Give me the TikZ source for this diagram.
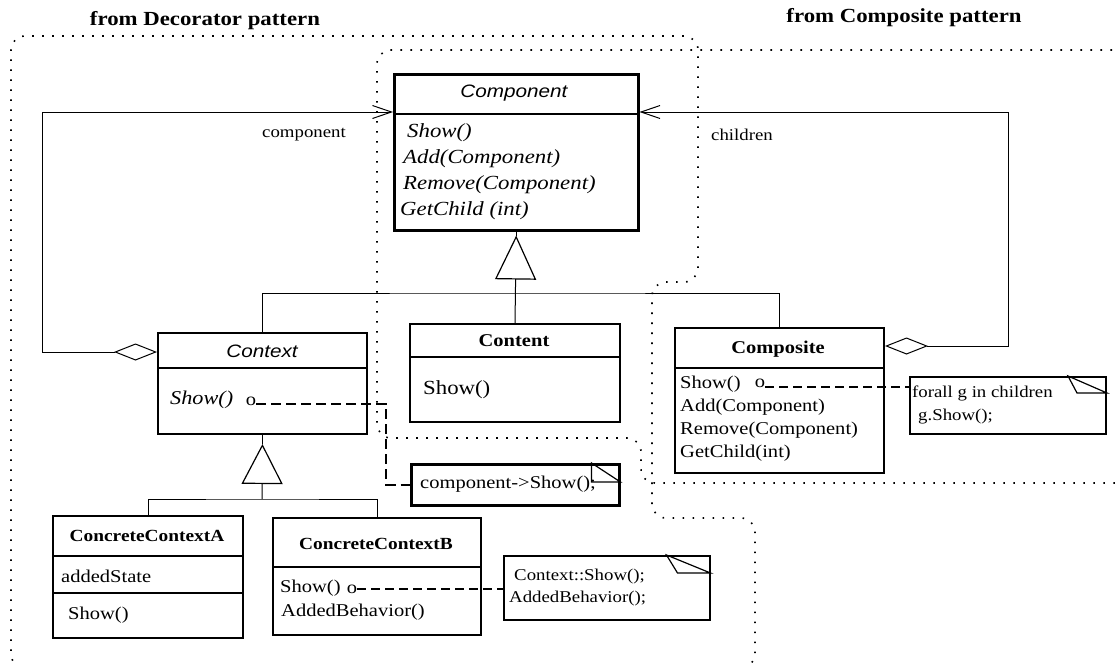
\documentclass[tikz,border=0pt]{standalone}
\usepackage{fontspec}
\setmainfont{Liberation Serif}[FakeStretch=1.14]
\newfontfamily\uisans{Liberation Sans}[FakeStretch=1.15]
\usetikzlibrary{arrows.meta}
\newcommand\fsz[1]{\fontsize{#1}{#1}\selectfont}
\begin{document}
\begin{tikzpicture}[x=1pt,y=-1pt,
  cls/.style={draw, line width=2pt, rectangle, inner sep=0pt, anchor=north west},
  note/.style={draw, line width=1.8pt, rectangle, inner sep=0pt, anchor=north west},
  divider/.style={line width=2pt},
  txt/.style={inner sep=0pt, anchor=west, font=\fsz{18}},
  ctitle/.style={inner sep=0pt, font=\bfseries\fsz{18}},
  atitle/.style={inner sep=0pt, font=\uisans\itshape\fsz{18}},
  ptitle/.style={inner sep=0pt, font=\bfseries\fsz{20}},
  lbl/.style={inner sep=0pt, font=\fsz{16.5}},
  link/.style={line width=1pt},
  region/.style={line width=1.6pt, dash pattern=on 1.6pt off 8.4pt, rounded corners=14pt},
  aggr/.style={link, {Diamond[open,length=43pt,width=17pt,line width=1pt]}-{Straight Barb[length=19pt,width=13pt,line width=1pt]}},
  inh/.style={link, -{Triangle[open,length=44pt,width=41pt,line width=1.2pt]}},
  notelink/.style={line width=1.2pt, dash pattern=on 9pt off 5pt},
  fold/.style={line width=1.2pt},
]
\fill[white] (0,0) rectangle (1115,664);
\useasboundingbox (0,0) rectangle (1115,664);

% pattern regions
\begin{scope}
  \clip (0,0) rectangle (1115,664);
  \draw[region] (400,668) -- (11,668) -- (11,36) -- (698,36) -- (698,282) -- (652,282)
                -- (652,518) -- (755,518) -- (755,668) -- (400,668);
  \draw[region] (1122,50) -- (377,50) -- (377,438) -- (641,438) -- (641,483) -- (1122,483);
\end{scope}

\node[ptitle] (tdec) at (205,21) {from Decorator pattern};
\node[ptitle] (tcom) at (904,18) {from Composite pattern};

% Component
\node[cls, line width=2.5pt, minimum width=244pt, minimum height=156pt] (comp) at (393,73) {};
\draw[divider] ([yshift=-41pt]comp.north west) -- ([yshift=-41pt]comp.north east);
\node[atitle] (compname) at (514,93) {Component};
\node[txt, font=\itshape\fsz{20}] (cm1) at (407,133) {Show()};
\node[txt, font=\itshape\fsz{20}] (cm2) at (403,159) {Add(Component)};
\node[txt, font=\itshape\fsz{20}] (cm3) at (403,185) {Remove(Component)};
\node[txt, font=\itshape\fsz{20}] (cm4) at (400,211) {GetChild (int)};

% Context
\node[cls, minimum width=209pt, minimum height=101pt] (ctx) at (157,332) {};
\draw[divider] ([yshift=-36pt]ctx.north west) -- ([yshift=-36pt]ctx.north east);
\node[atitle] (ctxname) at (262,351) {Context};
\node[txt, font=\itshape\fsz{19.5}] (ctxshow) at (170,400) {Show()};
\node[inner sep=0pt, font=\fsz{18}] (ctxo) at (251,401) {o};

% Content
\node[cls, minimum width=210pt, minimum height=98pt] (content) at (409,323) {};
\draw[divider] ([yshift=-34pt]content.north west) -- ([yshift=-34pt]content.north east);
\node[ctitle] (contentname) at (514,341) {Content};
\node[txt, font=\fsz{20}] (contentshow) at (423,390) {Show()};

% Composite
\node[cls, minimum width=209pt, minimum height=145pt] (compo) at (674,327) {};
\draw[divider] ([yshift=-41pt]compo.north west) -- ([yshift=-41pt]compo.north east);
\node[ctitle] (componame) at (778,349) {Composite};
\node[txt] (com1) at (680,384) {Show()};
\node[inner sep=0pt, font=\fsz{18}] (compoo) at (760,383) {o};
\node[txt] (com2) at (680,407) {Add(Component)};
\node[txt] (com3) at (680,430) {Remove(Component)};
\node[txt] (com4) at (680,453) {GetChild(int)};

% ConcreteContextA
\node[cls, minimum width=190pt, minimum height=122pt] (cca) at (52,515) {};
\draw[divider] ([yshift=-41pt]cca.north west) -- ([yshift=-41pt]cca.north east);
\draw[divider, line width=2.5pt] ([yshift=-78pt]cca.north west) -- ([yshift=-78pt]cca.north east);
\node[ctitle, font=\bfseries\fsz{17}] (ccaname) at (147,536) {ConcreteContextA};
\node[txt] (ccastate) at (61,576) {addedState};
\node[txt] (ccashow) at (68,615) {Show()};

% ConcreteContextB
\node[cls, minimum width=208pt, minimum height=117pt] (ccb) at (272,517) {};
\draw[divider] ([yshift=-50pt]ccb.north west) -- ([yshift=-50pt]ccb.north east);
\node[ctitle, font=\bfseries\fsz{17}] (ccbname) at (376,544) {ConcreteContextB};
\node[txt] (ccbshow) at (280,588) {Show()};
\node[inner sep=0pt, font=\fsz{18}] (ccbo) at (352,589) {o};
\node[txt] (ccbadd) at (281,612) {AddedBehavior()};

% notes
\node[note, line width=2.5pt, minimum width=208pt, minimum height=41pt] (n1) at (410,463) {};
\node[txt] (n1t) at (420,484) {component->Show();};
\draw[fold] ([xshift=-29pt]n1.north east) -- ([xshift=-29pt,yshift=-19pt]n1.north east)
  -- ([yshift=-19pt]n1.north east) -- cycle;

\node[note, line width=1.5pt, minimum width=206pt, minimum height=64pt] (n2) at (503,555) {};
\node[txt, font=\fsz{16.5}] (n2a) at (514,577) {Context::Show();};
\node[txt, font=\fsz{16.5}] (n2b) at (509,599) {AddedBehavior();};
\draw[fold] ([xshift=-44pt]n2.north east) -- ([xshift=-33pt,yshift=-18pt]n2.north east)
  -- ([yshift=-18pt]n2.north east) -- cycle;

\node[note, line width=2pt, minimum width=196pt, minimum height=57pt] (n3) at (909,376) {};
\node[txt, font=\fsz{16.5}] (n3a) at (912,393) {forall g in children};
\node[txt, font=\fsz{16.5}] (n3b) at (918,417) {g.Show();};
\draw[fold] ([xshift=-39pt]n3.north east) -- ([xshift=-30pt,yshift=-17pt]n3.north east)
  -- ([yshift=-17pt]n3.north east) -- cycle;

% association labels
\node[lbl] (lcomp) at (304,135) {component};
\node[lbl] (lchild) at (742,135) {children};

% aggregations
\draw[aggr] ([yshift=-20pt]ctx.north west) -- ++(-115,0) |- ([yshift=-39pt]comp.north west);
\draw[aggr] ([yshift=-19pt]compo.north east) -- ++(123,0) |- ([yshift=-39pt]comp.north east);

% generalisations
\coordinate (bar1) at (514,293);
\draw[link] (ctx.north) |- (bar1) -| (compo.north);
\draw[inh, shorten >=4pt] (content.north) -- (comp.south);
\draw[line width=1.5pt] (comp.south) -- ++(0,4);

\coordinate (bar2) at (262,499);
\draw[link] (cca.north) |- (bar2) -| (ccb.north);
\draw[link, -{Triangle[open,length=40pt,width=41pt,line width=1.2pt]}, shorten >=9pt] (bar2) -- (ctx.south);
\draw[link] (ctx.south) -- ++(0,9);

% note links
\coordinate (c1) at ([yshift=-3pt]ctxo.east);
\draw[line width=2pt, dash pattern=on 10pt off 5pt] (c1) -| ([xshift=-24pt]n1.west) -- (n1.west);
\coordinate (c2) at (ccbo.east);
\draw[notelink] (c2) -- (c2 -| n2.west);
\coordinate (c3) at ([yshift=-4pt]compoo.east);
\draw[notelink] (c3) -- (c3 -| n3.west);
\end{tikzpicture}
\end{document}
